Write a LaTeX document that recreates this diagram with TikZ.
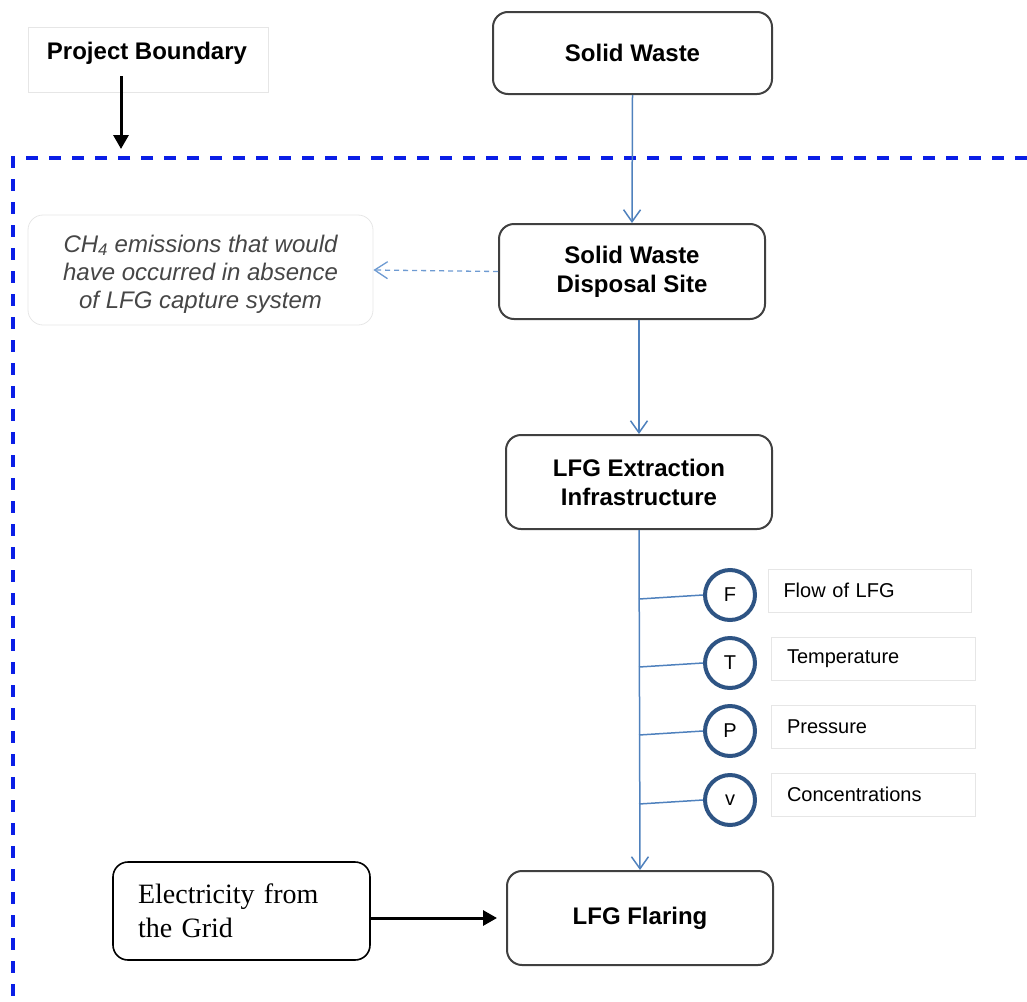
\documentclass[tikz,border=0pt]{standalone}
\usepackage{fontspec}
\setmainfont{Liberation Sans}
\newfontfamily\timesfont{Liberation Serif}
\usetikzlibrary{arrows.meta}
\definecolor{boxline}{RGB}{64,64,64}
\definecolor{faintline}{RGB}{230,230,230}
\definecolor{flowblue}{RGB}{79,129,189}
\definecolor{dashblue}{RGB}{110,155,210}
\definecolor{meterblue}{RGB}{46,84,132}
\definecolor{boundblue}{RGB}{10,30,230}
\definecolor{graytext}{RGB}{70,70,70}
\tikzset{
  procbox/.style={draw=boxline, line width=2pt, rounded corners=15pt, align=center,
    font=\bfseries\fontsize{24}{29}\selectfont, inner sep=0pt},
  faintbox/.style={draw=faintline, line width=0.8pt, inner sep=0pt},
  flowarrow/.style={draw=flowblue, line width=1.5pt, -{Straight Barb[length=12pt,width=17pt,line width=1.5pt]}},
  flowline/.style={draw=flowblue, line width=1.5pt},
  meter/.style={circle, draw=meterblue, line width=4pt, minimum size=50pt, inner sep=0pt,
    fill=white, font=\fontsize{20}{24}\selectfont},
  measlabel/.style={faintbox, minimum height=43pt, text width=172pt, align=left,
    font=\fontsize{20}{24}\selectfont, inner sep=0pt},
  blackarrow/.style={draw=black, line width=3pt, -{Triangle[length=14pt,width=15pt]}},
  boundary/.style={draw=boundblue, line width=3.3pt, dash pattern=on 12pt off 11pt}
}
\begin{document}
\begin{tikzpicture}[x=1pt, y=-1pt]
\useasboundingbox (0,0) rectangle (1027,1001);
% project boundary label
\node[faintbox, minimum width=240pt, minimum height=65pt] (pbox) at (148,59.5) {};
\node[font=\bfseries\fontsize{24}{28}\selectfont, inner sep=0pt] (ptext) at (147,53) {Project Boundary};
\coordinate (pbstart) at (121,76);
\coordinate (pbend) at (121,149);
\draw[blackarrow] (pbstart) -- (pbend);
% boundary
\coordinate (bnd1) at (1027,158);
\coordinate (bnd2) at (13,158);
\coordinate (bnd3) at (13,1001);
\draw[boundary] (bnd1) -- (bnd2) -- (bnd3);
% main boxes
\node[procbox, minimum width=279pt, minimum height=82pt] (sw) at (632.5,53) {Solid Waste};
\node[procbox, minimum width=266pt, minimum height=95pt] (swds) at (632,271.5) {Solid Waste\\Disposal Site};
\node[procbox, minimum width=266pt, minimum height=94pt] (lfge) at (639,482) {LFG Extraction\\Infrastructure};
\node[procbox, minimum width=266pt, minimum height=94pt] (flare) at (640,918) {LFG Flaring};
% CH4 box
\node[faintbox, rounded corners=15pt, minimum width=345pt, minimum height=110pt] (ch4) at (200.5,270) {};
\node[align=center, inner sep=0pt, font=\itshape\fontsize{24}{28}\selectfont, text=graytext] (ch4text) at (200.5,274)
  {CH\textsubscript{4} emissions that would\\have occurred in absence\\of LFG capture system};
% electricity
\node[draw=black, line width=1.6pt, rounded corners=15pt, minimum width=257pt, minimum height=98pt,
  text width=207pt, align=left, font=\timesfont\fontsize{28}{34}\selectfont, inner sep=0pt] (elec) at (241.5,911)
  {Electricity from\\the Grid};
% flows
\draw[flowarrow] (sw.south) -- (swds.north);
\draw[flowarrow] (swds.south -| lfge.north) -- (lfge.north);
\draw[flowarrow] (lfge.south) -- (flare.north);
\draw[draw=dashblue, line width=1.3pt, dash pattern=on 5pt off 4pt,
  -{Straight Barb[length=13pt,width=17pt,line width=1.3pt]}] (swds.west) -- (ch4.east);
\draw[blackarrow, shorten >=9pt] (elec.east |- flare.west) -- (flare.west);
% meters
\node[meter] (mf) at (730,595) {F};
\node[meter] (mt) at (730,663) {T};
\node[meter] (mp) at (730,731) {P};
\node[meter] (mv) at (730,800) {v};
\coordinate (bf) at (639,599);
\coordinate (bt) at (639,667);
\coordinate (bp) at (639,735);
\coordinate (bv) at (639,804);
\draw[flowline] (bf) -- (mf.west);
\draw[flowline] (bt) -- (mt.west);
\draw[flowline] (bp) -- (mp.west);
\draw[flowline] (bv) -- (mv.west);
% labels
\node[measlabel, minimum width=203pt] (lf) at (869.5,590.5) {Flow of LFG};
\node[measlabel, minimum width=204pt] (lt) at (873,658.5) {Temperature};
\node[measlabel, minimum width=204pt] (lp) at (873,726.5) {Pressure};
\node[measlabel, minimum width=204pt] (lv) at (873,794.5) {Concentrations};
\end{tikzpicture}
\end{document}
